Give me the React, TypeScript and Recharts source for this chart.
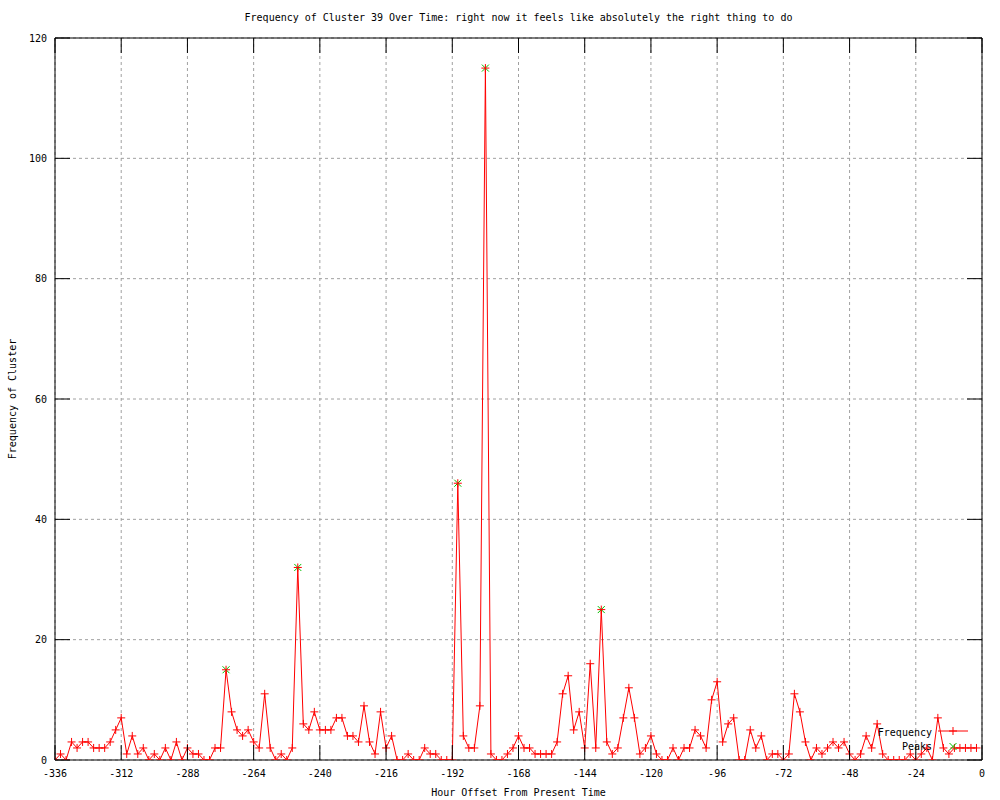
import { LineChart, Line, XAxis, YAxis, CartesianGrid, ReferenceArea, Legend } from 'recharts';

// hour offsets, one sample every 2 hours
const hours = [
  -336, -334, -332, -330, -328, -326, -324, -322, -320, -318, -316, -314,
  -312, -310, -308, -306, -304, -302, -300, -298, -296, -294, -292, -290,
  -288, -286, -284, -282, -280, -278, -276, -274, -272, -270, -268, -266,
  -264, -262, -260, -258, -256, -254, -252, -250, -248, -246, -244, -242,
  -240, -238, -236, -234, -232, -230, -228, -226, -224, -222, -220, -218,
  -216, -214, -212, -210, -208, -206, -204, -202, -200, -198, -196, -194,
  -192, -190, -188, -186, -184, -182, -180, -178, -176, -174, -172, -170,
  -168, -166, -164, -162, -160, -158, -156, -154, -152, -150, -148, -146,
  -144, -142, -140, -138, -136, -134, -132, -130, -128, -126, -124, -122,
  -120, -118, -116, -114, -112, -110, -108, -106, -104, -102, -100, -98,
  -96, -94, -92, -90, -88, -86, -84, -82, -80, -78, -76, -74,
  -72, -70, -68, -66, -64, -62, -60, -58, -56, -54, -52, -50,
  -48, -46, -44, -42, -40, -38, -36, -34, -32, -30, -28, -26,
  -24, -22, -20, -18, -16, -14, -12, -10, -8, -6, -4, -2,
];

const frequency = [
  0, 1, 0, 3, 2, 3, 3, 2, 2, 2, 3, 5,
  7, 1, 4, 1, 2, 0, 1, 0, 2, 0, 3, 0,
  2, 1, 1, 0, 0, 2, 2, 15, 8, 5, 4, 5,
  3, 2, 11, 2, 0, 1, 0, 2, 32, 6, 5, 8,
  5, 5, 5, 7, 7, 4, 4, 3, 9, 3, 1, 8,
  2, 4, 0, 0, 1, 0, 0, 2, 1, 1, 0, 0,
  0, 46, 4, 2, 2, 9, 115, 1, 0, 0, 1, 2,
  4, 2, 2, 1, 1, 1, 1, 3, 11, 14, 5, 8,
  2, 16, 2, 25, 3, 1, 2, 7, 12, 7, 1, 2,
  4, 1, 0, 0, 2, 0, 2, 2, 5, 4, 2, 10,
  13, 3, 6, 7, 0, 0, 5, 2, 4, 0, 1, 1,
  0, 1, 11, 8, 3, 0, 2, 1, 2, 3, 2, 3,
  1, 0, 1, 4, 2, 6, 1, 0, 0, 0, 0, 1,
  0, 1, 2, 0, 7, 2, 1, 2, 2, 2, 2, 2,
];

const peakHours = [-274, -248, -190, -180, -138];
const peakValues = [15, 32, 46, 115, 25];

const xTicks = [-336, -312, -288, -264, -240, -216, -192, -168, -144, -120, -96, -72, -48, -24, 0];
const yTicks = [0, 20, 40, 60, 80, 100, 120];

const freqData = hours.map((h, i) => ({ hour: h, value: frequency[i] }));
const peakData = peakHours.map((h, i) => ({ hour: h, value: peakValues[i] }));

const W = 1000;
const H = 800;
const YW = 55;
const XH = 40;
const MARGIN = { top: 38, right: 18, bottom: 0, left: 0 };
const PW = W - YW - MARGIN.right;
const PH = H - MARGIN.top - XH;
const TICK = 15;
const FONT = '"DejaVu Sans Mono", "Liberation Mono", monospace';
const RED = '#ff0000';
const GREEN = '#00c000';

function XTick(props: any) {
  const { x, y, payload } = props;
  return (
    <g>
      <line x1={x} x2={x} y1={y} y2={y - TICK} stroke="#000" />
      <line x1={x} x2={x} y1={y - PH} y2={y - PH + TICK} stroke="#000" />
      <text x={x} y={y + 17} textAnchor="middle" fontSize={10} fontFamily={FONT} fill="#000">
        {payload.value}
      </text>
    </g>
  );
}

function YTick(props: any) {
  const { x, y, payload } = props;
  return (
    <g>
      <line x1={x} x2={x + TICK} y1={y} y2={y} stroke="#000" />
      <line x1={x + PW} x2={x + PW - TICK} y1={y} y2={y} stroke="#000" />
      <text x={x - 8} y={y + 3.5} textAnchor="end" fontSize={10} fontFamily={FONT} fill="#000">
        {payload.value}
      </text>
    </g>
  );
}

function PlusDot(p: any) {
  if (p.cx == null || p.cy == null) return <g key={`p${p.index}`} />;
  return (
    <path
      key={`p${p.index}`}
      d={`M${p.cx - 4},${p.cy}h8M${p.cx},${p.cy - 4}v8`}
      stroke={RED}
      fill="none"
    />
  );
}

function CrossDot(p: any) {
  if (p.cx == null || p.cy == null) return <g key={`x${p.index}`} />;
  return (
    <path
      key={`x${p.index}`}
      d={`M${p.cx - 3.5},${p.cy - 3.5}l7,7M${p.cx - 3.5},${p.cy + 3.5}l7,-7`}
      stroke={GREEN}
      fill="none"
    />
  );
}

function LegendBox() {
  return (
    <svg width={130} height={34} style={{ display: 'block' }}>
      <text x={62} y={15} textAnchor="end" fontSize={10} fontFamily={FONT} fill="#000">Frequency</text>
      <line x1={68} x2={98} y1={10} y2={10} stroke={RED} />
      <path d="M79,10h8M83,6v8" stroke={RED} fill="none" />
      <text x={62} y={29} textAnchor="end" fontSize={10} fontFamily={FONT} fill="#000">Peaks</text>
      <path d="M79.5,22l7,7M79.5,29l7,-7" stroke={GREEN} fill="none" />
    </svg>
  );
}

const textStyle = { fontFamily: FONT, fontSize: 10, color: '#000', whiteSpace: 'nowrap' as const, lineHeight: '12px' };

export default function App() {
  return (
    <div style={{ position: 'absolute', left: 0, top: 0, width: W, height: H, background: '#fff' }}>
      <LineChart width={W} height={H} margin={MARGIN}>
        <CartesianGrid stroke="#a0a0a0" strokeDasharray="3 3" />
        <XAxis
          dataKey="hour"
          type="number"
          domain={[-336, 0]}
          ticks={xTicks}
          height={XH}
          tickLine={false}
          tickSize={0}
          tickMargin={0}
          axisLine={false}
          tick={<XTick />}
          allowDataOverflow
        />
        <YAxis
          type="number"
          domain={[0, 120]}
          ticks={yTicks}
          width={YW}
          tickLine={false}
          tickSize={0}
          tickMargin={0}
          axisLine={false}
          tick={<YTick />}
          allowDataOverflow
        />
        <ReferenceArea x1={-336} x2={0} y1={0} y2={120} fill="none" stroke="#000" strokeWidth={1} ifOverflow="visible" />
        <Line
          data={peakData}
          dataKey="value"
          stroke="none"
          dot={CrossDot}
          activeDot={false}
          isAnimationActive={false}
          legendType="none"
        />
        <Line
          data={freqData}
          dataKey="value"
          stroke={RED}
          strokeWidth={1}
          dot={PlusDot}
          activeDot={false}
          isAnimationActive={false}
        />
        <Legend
          layout="horizontal"
          verticalAlign="middle"
          align="center"
          content={() => <LegendBox />}
          wrapperStyle={{ position: 'absolute', left: 870, top: 721, width: 130, height: 34, margin: 0, padding: 0 }}
        />
      </LineChart>
      <div style={{ ...textStyle, position: 'absolute', left: YW, top: 12, width: PW, textAlign: 'center' }}>
        Frequency of Cluster 39 Over Time: right now it feels like absolutely the right thing to do
      </div>
      <div style={{ ...textStyle, position: 'absolute', left: YW, top: 787, width: PW, textAlign: 'center' }}>
        Hour Offset From Present Time
      </div>
      <div
        style={{
          ...textStyle,
          position: 'absolute',
          left: 13,
          top: 399,
          transform: 'translate(-50%, -50%) rotate(-90deg)',
        }}
      >
        Frequency of Cluster
      </div>
    </div>
  );
}
